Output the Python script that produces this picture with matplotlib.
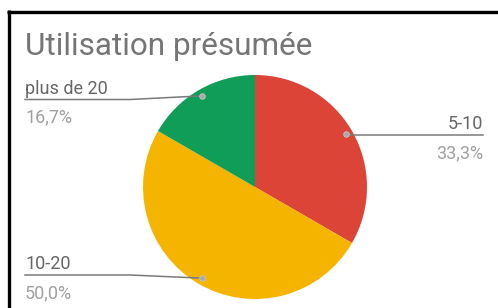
import numpy as np
import matplotlib
matplotlib.use("Agg")
import matplotlib.pyplot as plt

# data
categories = ["5-10", "10-20", "plus de 20"]
counts = [2, 3, 1]
colors = ["#db4437", "#f4b400", "#0f9d58"]
title = "Utilisation présumée"

plt.rcParams['font.family'] = ['Roboto', 'DejaVu Sans']

W, H = 498, 308
fig = plt.figure(figsize=(W / 100, H / 100), dpi=100)
ax = fig.add_axes([0, 0, 1, 1])

# pie in pixel space (y up)
cx, cy, R = 255, H - 187, 112
ax.pie(counts, colors=colors, startangle=90, counterclock=False,
       center=(cx, cy), radius=R, frame=True,
       wedgeprops=dict(linewidth=0))
ax.set_xlim(0, W)
ax.set_ylim(0, H)
ax.axis('off')

# frame lines of the screenshot (top and left only)
ax.plot([7, W], [H - 11.5, H - 11.5], color='black', lw=2.4, solid_capstyle='butt')
ax.plot([8.5, 8.5], [0, H - 10], color='black', lw=2.4, solid_capstyle='butt')

ax.text(25, H - 55, title, fontsize=22.7, color='#757575', ha='left', va='baseline')

# label layout: side, y of leader line, knee x
layout = {
    "5-10": ("right", 135, None),
    "10-20": ("left", 275, 130),
    "plus de 20": ("left", 99.5, 130),
}

total = float(sum(counts))
cum = 0.0
for name, v, c in zip(categories, counts, colors):
    mid = 90 - 360 * (cum + v / 2) / total
    cum += v
    dx = cx + 0.94 * R * np.cos(np.radians(mid))
    dy = cy + 0.94 * R * np.sin(np.radians(mid))
    pct = f"{v / total * 100:.1f}%".replace('.', ',')
    side, ly, knee = layout[name]
    ly = H - ly
    if side == "left":
        ax.plot([25, knee, dx], [ly, ly, dy], color='#7a7a7a', lw=1.1)
        tx, ha = 25, 'left'
    else:
        ax.plot([dx, 483], [ly, ly], color='#7a7a7a', lw=1.1)
        tx, ha = 483, 'right'
    ax.plot(dx, dy, 'o', ms=4, color='#a8a8a8', mec='#c8c8c8', mew=0.6)
    ax.text(tx, ly + 6, name, fontsize=13, color='#666666', ha=ha, va='baseline')
    ax.text(tx, ly - 9, pct, fontsize=13, color='#a0a0a0', ha=ha, va='top')

fig.savefig("out.png", dpi=100)
